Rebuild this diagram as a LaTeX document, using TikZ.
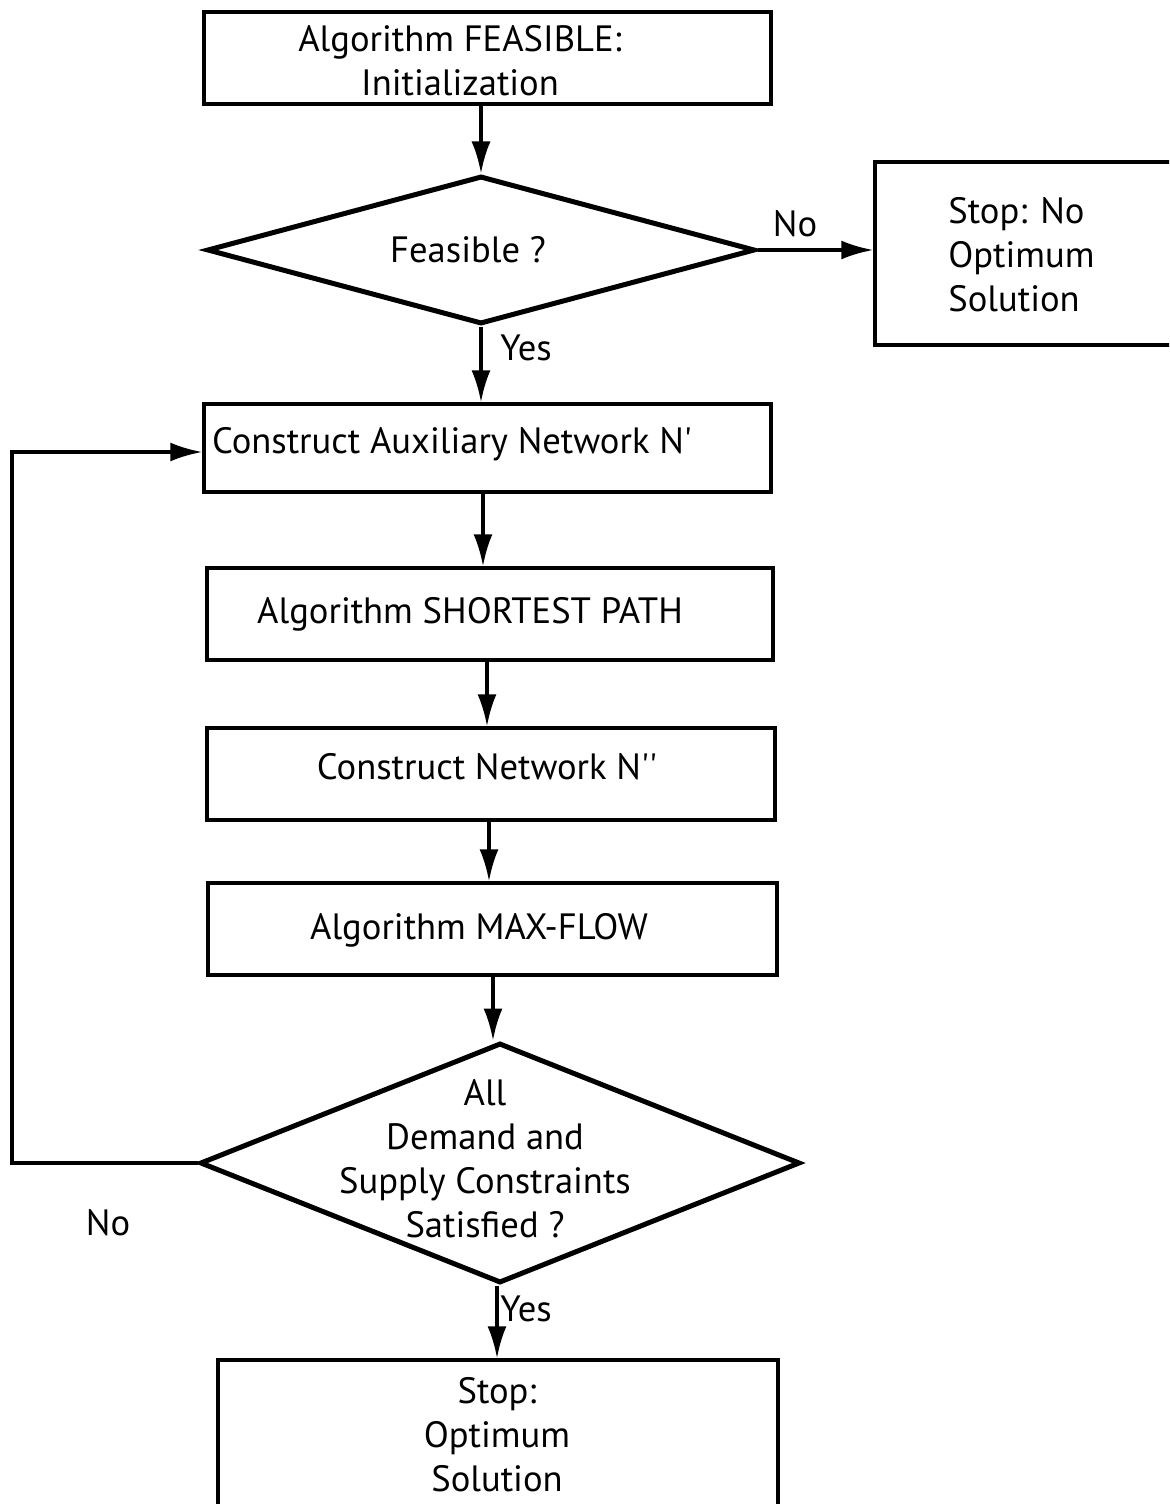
\documentclass[tikz,border=0pt]{standalone}
\usepackage{fontspec}
\setmainfont{PT Sans}
\usetikzlibrary{shapes.geometric,arrows.meta,calc}
\newcommand{\sq}{\textquotesingle}
\begin{document}
\begin{tikzpicture}[x=0.5pt,y=-0.5pt,
  every node/.style={font=\fontsize{18.3}{22}\selectfont},
  box/.style={draw,line width=1.7pt,rectangle,inner sep=0pt},
  decision/.style={draw,line width=2.5pt,diamond,inner sep=0pt},
  txt/.style={inner sep=0pt,align=center},
  arr/.style={line width=1.7pt,-{Latex[length=16pt,width=9.5pt]}},
  lab/.style={inner sep=0pt}]
\useasboundingbox (0,0) rectangle (1169,1504);
\clip (0,0) rectangle (1169,1504);

% process boxes
\node[box,minimum width=283.5pt,minimum height=46pt] (init) at (487.5,58) {};
\node[txt,text depth=0pt] (initT) at (460,60) {Algorithm FEASIBLE:\\Initialization};

\node[decision,minimum width=274pt,minimum height=74pt] (feas) at (481,250) {};
\node[txt] (feasT) at (468,250) {Feasible ?};

\node[box,minimum width=160pt,minimum height=91.5pt] (nosol) at (1035,253.5) {};
\node[txt,align=left,anchor=west] (nosolT) at (948,255) {Stop: No\\Optimum\\Solution};

\node[box,minimum width=283.5pt,minimum height=44pt] (aux) at (487.5,448) {};
\node[txt] (auxT) at (452,444) {Construct Auxiliary Network N\sq};

\node[box,minimum width=283pt,minimum height=46pt] (sp) at (490,614) {};
\node[txt] (spT) at (470,614) {Algorithm SHORTEST PATH};

\node[box,minimum width=284pt,minimum height=46pt] (net) at (491,774) {};
\node[txt] (netT) at (487,767) {Construct Network N\sq\sq};

\node[box,minimum width=284.5pt,minimum height=46pt] (mf) at (492.5,929) {};
\node[txt] (mfT) at (479,930) {Algorithm MAX-FLOW};

\node[decision,minimum width=300pt,minimum height=120pt] (cons) at (500,1163) {};
\node[txt] (consT) at (485,1159) {All\\Demand and\\Supply Constraints\\Satisfied ?};

\node[box,minimum width=280pt,minimum height=90pt] (opt) at (498,1450) {};
\node[txt] (optT) at (497,1435) {Stop:\\Optimum\\Solution};

% connectors
\draw[arr] (feas.north |- init.south) -- (feas.north);
\draw[arr] (feas.east) -- (nosol.west |- feas.east);
\node[lab] (noA) at (795,224) {No};
\draw[arr] (feas.south) -- (feas.south |- aux.north);
\node[lab,anchor=west] (yesA) at (500,348) {Yes};
\draw[arr] ([xshift=-2.25pt]aux.south) -- ([xshift=-2.25pt]aux.south |- sp.north);
\draw[arr] ([xshift=-1.5pt]sp.south) -- ([xshift=-1.5pt]sp.south |- net.north);
\draw[arr] ([xshift=-1pt]net.south) -- ([xshift=-1pt]net.south |- mf.north);
\draw[arr] ([xshift=0.25pt]mf.south) -- ([xshift=0.25pt]mf.south |- cons.north);
\draw[arr] ([xshift=-1.5pt]cons.south) -- ([xshift=-1.5pt]cons.south |- opt.north);
\node[lab,anchor=west] (yesB) at (500,1309) {Yes};
\coordinate (loopL) at (12,1163);
\draw[arr] (cons.west) -- (loopL) |- ([yshift=-2pt]aux.west);
\node[lab] (noB) at (108,1223) {No};
\end{tikzpicture}
\end{document}
